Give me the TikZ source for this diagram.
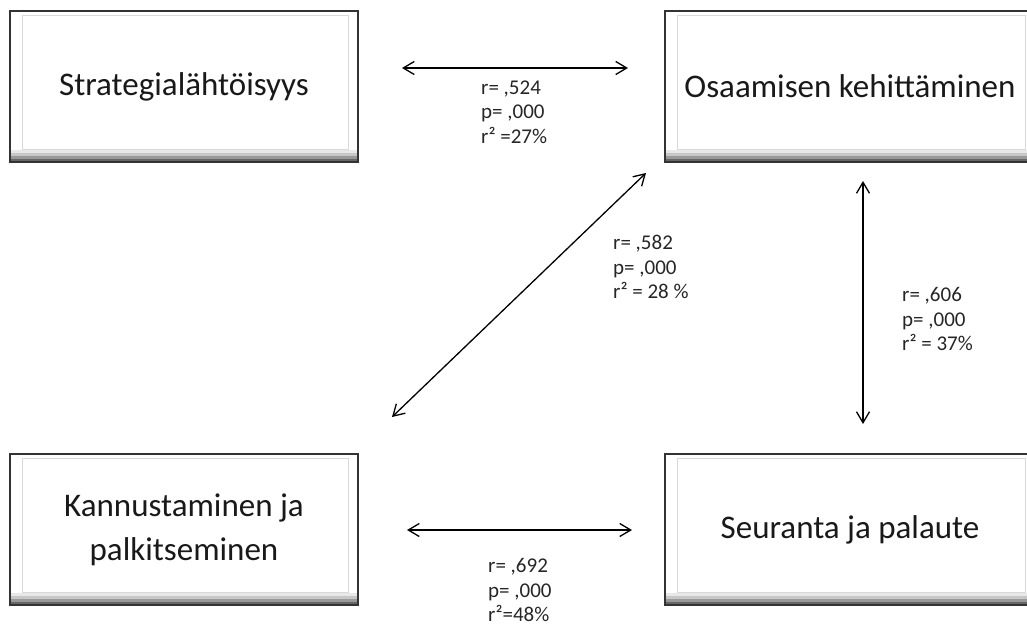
\documentclass[tikz,border=0pt]{standalone}
\usepackage{fontspec}
\setmainfont{Carlito}
\usepackage{tikz}
\usetikzlibrary{arrows.meta}
\tikzset{
  kbox/.style={draw=black!80, line width=1.8pt, fill=white, inner sep=0pt,
    minimum height=151pt, align=center, text=black!90,
    font=\fontsize{33}{44}\selectfont,
    path picture={
      \foreach \i/\c in {0/60,3/40,6/22,9/9}
        \fill[black!\c] ([yshift=\i pt]path picture bounding box.south west) rectangle ([yshift=\i pt+3.2pt]path picture bounding box.south east);
      \draw[black!15, line width=1pt]
        ([xshift=12pt,yshift=13pt]path picture bounding box.south west) rectangle ([xshift=-10pt,yshift=-4pt]path picture bounding box.north east);
    }},
  kstat/.style={anchor=west, inner sep=0pt, align=left, text=black!85,
    font=\fontsize{21}{24.5}\selectfont},
  klink/.style={line width=1.3pt, {Straight Barb[length=11pt,width=13pt]}-{Straight Barb[length=11pt,width=13pt]}},
}
\begin{document}
\begin{tikzpicture}[x=1pt,y=-1pt]
\useasboundingbox (0,0) rectangle (1027,627);
% the four boxes
\node[kbox, minimum width=348pt] (strat) at (184,86.5) {Strategialähtöisyys};
\node[kbox, minimum width=370pt] (osaam) at (850,86.5) {Osaamisen kehittäminen};
\node[kbox, minimum width=348pt] (kannu) at (184,529.5) {Kannustaminen ja\\palkitseminen};
\node[kbox, minimum width=370pt] (seura) at (850,529.5) {Seuranta ja palaute};
% arrow ends
\coordinate (so-l) at (402,68);
\coordinate (so-r) at (628,68);
\coordinate (ko-b) at (392,417);
\coordinate (ko-t) at (646,173);
\coordinate (os-t) at (863,181);
\coordinate (os-b) at (863,424);
\coordinate (ks-l) at (407,530);
\coordinate (ks-r) at (632,530);
\draw[klink] (so-l) -- (so-r);
\draw[klink] (ko-b) -- (ko-t);
\draw[klink] (os-t) -- (os-b);
\draw[klink] (ks-l) -- (ks-r);
% correlations
\node[kstat] (st-so) at (481,112) {r= ,524\\p= ,000\\r² =27\%};
\node[kstat] (st-ko) at (613,267) {r= ,582\\p= ,000\\r² = 28 \%};
\node[kstat] (st-os) at (902,319) {r= ,606\\p= ,000\\r² = 37\%};
\node[kstat] (st-ks) at (488,590) {r= ,692\\p= ,000\\r²=48\%};
\end{tikzpicture}
\end{document}
